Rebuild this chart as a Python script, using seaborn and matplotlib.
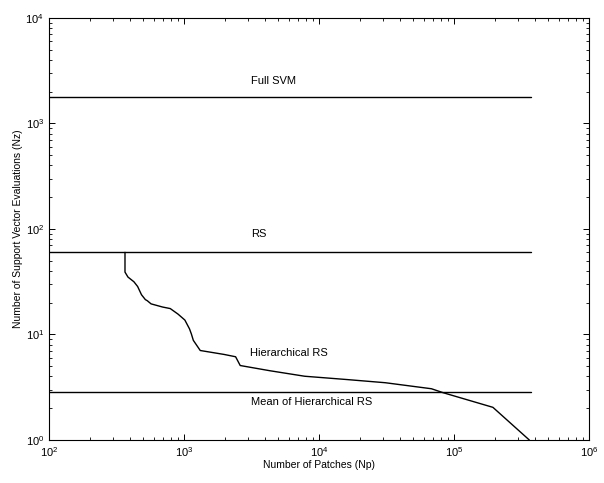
import numpy as np
import pandas as pd
import matplotlib
matplotlib.use("Agg")
import matplotlib.pyplot as plt
import seaborn as sns

# reference levels
level_names = ["Full SVM", "RS", "Mean of Hierarchical RS"]
level_values = [1760, 60.5, 2.85]
level_xrange = [100, 370000]

# hierarchical RS curve
hrs_patches = [366, 366, 385, 426, 454, 485, 518, 535, 571, 695, 792, 904, 1016,
               1100, 1136, 1174, 1321, 1983, 2415, 2612, 4350, 7850, 16150,
               31050, 68200, 83000, 194500, 362000]
hrs_evals = [60, 39, 35, 31.6, 28.5, 23.8, 21.4, 20.9, 19.5, 18.2, 17.6, 15.6,
             13.7, 11.3, 10.1, 8.8, 7.05, 6.47, 6.15, 5.08, 4.53, 4.02, 3.74,
             3.49, 3.06, 2.81, 2.04, 1.0]

sns.set_theme(style="ticks")
plt.rcParams['font.family'] = ['Liberation Sans', 'DejaVu Sans']
plt.rcParams['text.color'] = 'black'
plt.rcParams['axes.labelcolor'] = 'black'
plt.rcParams['xtick.labelcolor'] = 'black'
plt.rcParams['ytick.labelcolor'] = 'black'

fig = plt.figure(figsize=(6.04, 4.83), dpi=100)
ax = fig.add_axes([0.081, 0.089, 0.894, 0.874])

for name, val in zip(level_names, level_values):
    df = pd.DataFrame({"x": level_xrange, "y": [val, val]})
    sns.lineplot(data=df, x="x", y="y", ax=ax, color="black", linewidth=1.0)

curve = pd.DataFrame({"Np": hrs_patches, "Nz": hrs_evals})
sns.lineplot(data=curve, x="Np", y="Nz", ax=ax, color="black", linewidth=1.0,
             sort=False, estimator=None)

ax.set_xscale("log")
ax.set_yscale("log")
ax.set_xlim(1e2, 1e6)
ax.set_ylim(1e0, 1e4)

# labels
ax.text(3160, 2360, "Full SVM", fontsize=8)
ax.text(3160, 84.5, "RS", fontsize=8)
ax.text(3100, 6.3, "Hierarchical RS", fontsize=8)
ax.text(3160, 2.14, "Mean of Hierarchical RS", fontsize=8)

ax.set_xlabel("Number of Patches (Np)", fontsize=7.5, labelpad=1)
ax.set_ylabel("Number of Support Vector Evaluations (Nz)", fontsize=7.5, labelpad=2)

ax.tick_params(which="both", direction="in", top=True, right=True,
               labelsize=8, color="black")
ax.tick_params(which="major", length=4, width=0.7)
ax.tick_params(which="minor", length=2.5, width=0.6)
for s in ax.spines.values():
    s.set_linewidth(0.8)
    s.set_color("black")

fig.savefig("out.png", dpi=100, facecolor="white")
